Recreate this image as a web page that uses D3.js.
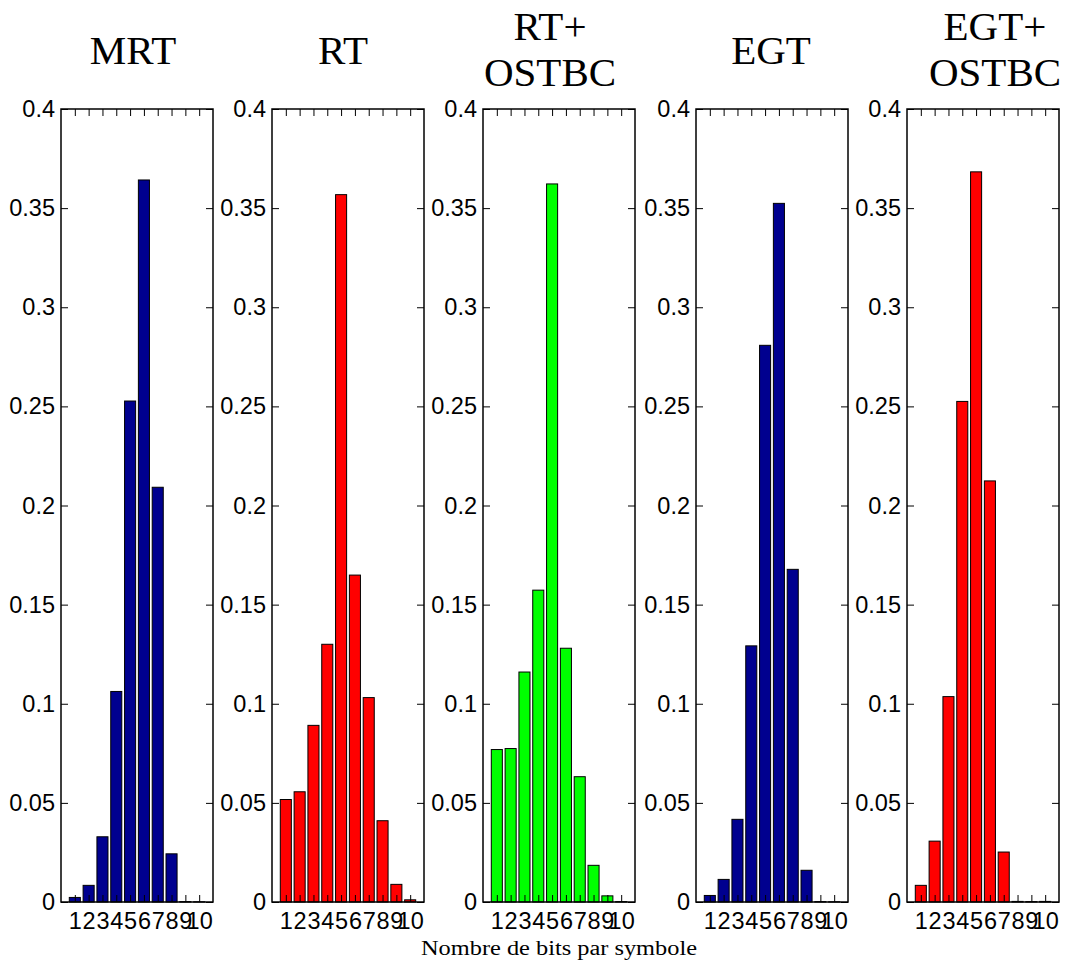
<!DOCTYPE html>
<html>
<head>
<meta charset="utf-8">
<script src="https://cdn.jsdelivr.net/npm/d3@7"></script>
<style>
  html, body { margin: 0; padding: 0; background: #fff; }
  svg { display: block; }
</style>
</head>
<body>
<script>
// ---- data ----
const categories = [1, 2, 3, 4, 5, 6, 7, 8, 9, 10];
const mrt      = [0.0023, 0.0084, 0.0329, 0.1062, 0.2527, 0.3642, 0.2092, 0.0243, 0.0002, 0.0001];
const rt       = [0.0517, 0.0556, 0.0891, 0.1300, 0.3568, 0.1649, 0.1031, 0.0410, 0.0089, 0.0011];
const rtOstbc  = [0.0769, 0.0774, 0.1160, 0.1573, 0.3622, 0.1280, 0.0632, 0.0185, 0.0031, 0.0002];
const egt      = [0.0033, 0.0114, 0.0417, 0.1292, 0.2808, 0.3524, 0.1678, 0.0160, 0.0002, 0.0001];
const egtOstbc = [0.0084, 0.0307, 0.1036, 0.2525, 0.3683, 0.2124, 0.0252, 0.0003, 0.0002, 0.0003];
const yTicks = [0, 0.05, 0.1, 0.15, 0.2, 0.25, 0.3, 0.35, 0.4];
const yTickLabels = ["0", "0.05", "0.1", "0.15", "0.2", "0.25", "0.3", "0.35", "0.4"];
const xTickLabels = ["1", "2", "3", "4", "5", "6", "7", "8", "9", "10"];
const titles = [["MRT"], ["RT"], ["RT+", "OSTBC"], ["EGT"], ["EGT+", "OSTBC"]];
const seriesList = [mrt, rt, rtOstbc, egt, egtOstbc];
const colors = ["#00008f", "#ff0000", "#00ff00", "#00008f", "#ff0000"];
const xLabel = "Nombre de bits par symbole";

// ---- layout ----
const W = 1072, H = 960;
const panelLeft = [61, 272, 483, 696, 907];
const panelW = 152;
const plotTop = 109, plotBottom = 902;
const titleShift = [-4, -5, -9, -1, 12];
const tickLen = 7;

const svg = d3.select("body").append("svg").attr("width", W).attr("height", H);

const y = d3.scaleLinear().domain([0, 0.4]).range([plotBottom, plotTop]);

seriesList.forEach((vals, p) => {
  const x = d3.scaleLinear().domain([0, 11]).range([0, panelW]);
  const g = svg.append("g").attr("transform", `translate(${panelLeft[p]},0)`);
  const bw = x(0.8) - x(0);

  g.selectAll("rect.bar").data(categories).enter().append("rect")
    .attr("class", "bar")
    .attr("x", (d) => x(d) - bw / 2)
    .attr("width", bw)
    .attr("y", (d, i) => y(vals[i]))
    .attr("height", (d, i) => y(0) - y(vals[i]))
    .attr("fill", colors[p])
    .attr("stroke", "#000")
    .attr("stroke-width", 1);

  // left axis with labels, inward ticks
  const ax = g.append("g").call(
    d3.axisLeft(y).tickValues(yTicks).tickFormat((d, i) => yTickLabels[i])
      .tickSizeInner(-tickLen).tickSizeOuter(0).tickPadding(6));
  ax.select(".domain").remove();
  ax.selectAll("text").attr("font-family", "Liberation Sans, Arial, sans-serif")
    .attr("font-size", 23.5).attr("fill", "#000");
  ax.selectAll("line").attr("stroke", "#000");

  // right axis ticks
  const ar = g.append("g").attr("transform", `translate(${panelW},0)`).call(
    d3.axisRight(y).tickValues(yTicks).tickFormat("").tickSizeInner(-tickLen).tickSizeOuter(0));
  ar.select(".domain").remove();
  ar.selectAll("line").attr("stroke", "#000");

  // bottom axis with labels
  const ab = g.append("g").attr("transform", `translate(0,${plotBottom})`).call(
    d3.axisBottom(x).tickValues(categories).tickFormat((d, i) => xTickLabels[i])
      .tickSizeInner(-tickLen).tickSizeOuter(0).tickPadding(10));
  ab.select(".domain").remove();
  ab.selectAll("text").attr("font-family", "Liberation Sans, Arial, sans-serif")
    .attr("font-size", 23.5).attr("fill", "#000");
  ab.selectAll("line").attr("stroke", "#000");

  // top axis ticks
  const at = g.append("g").attr("transform", `translate(0,${plotTop})`).call(
    d3.axisTop(x).tickValues(categories).tickFormat("").tickSizeInner(-tickLen).tickSizeOuter(0));
  at.select(".domain").remove();
  at.selectAll("line").attr("stroke", "#000");

  // box
  g.append("rect").attr("x", 0).attr("y", plotTop).attr("width", panelW).attr("height", plotBottom - plotTop)
    .attr("fill", "none").attr("stroke", "#000").attr("stroke-width", 1.5);

  // title
  const lines = titles[p];
  const baselines = lines.length === 1 ? [64] : [40, 86];
  const t = g.append("text").attr("text-anchor", "middle")
    .attr("font-family", "Liberation Serif, Times New Roman, serif")
    .attr("font-size", 41).attr("fill", "#000");
  lines.forEach((ln, i) => {
    t.append("tspan").attr("x", panelW / 2 + titleShift[p]).attr("y", baselines[i]).text(ln);
  });
});

svg.append("text").attr("x", 559).attr("y", 955).attr("text-anchor", "middle")
  .attr("font-family", "Liberation Serif, Times New Roman, serif")
  .attr("font-size", 20).attr("fill", "#000")
  .attr("textLength", 276).attr("lengthAdjust", "spacingAndGlyphs")
  .text(xLabel);
</script>
</body>
</html>
